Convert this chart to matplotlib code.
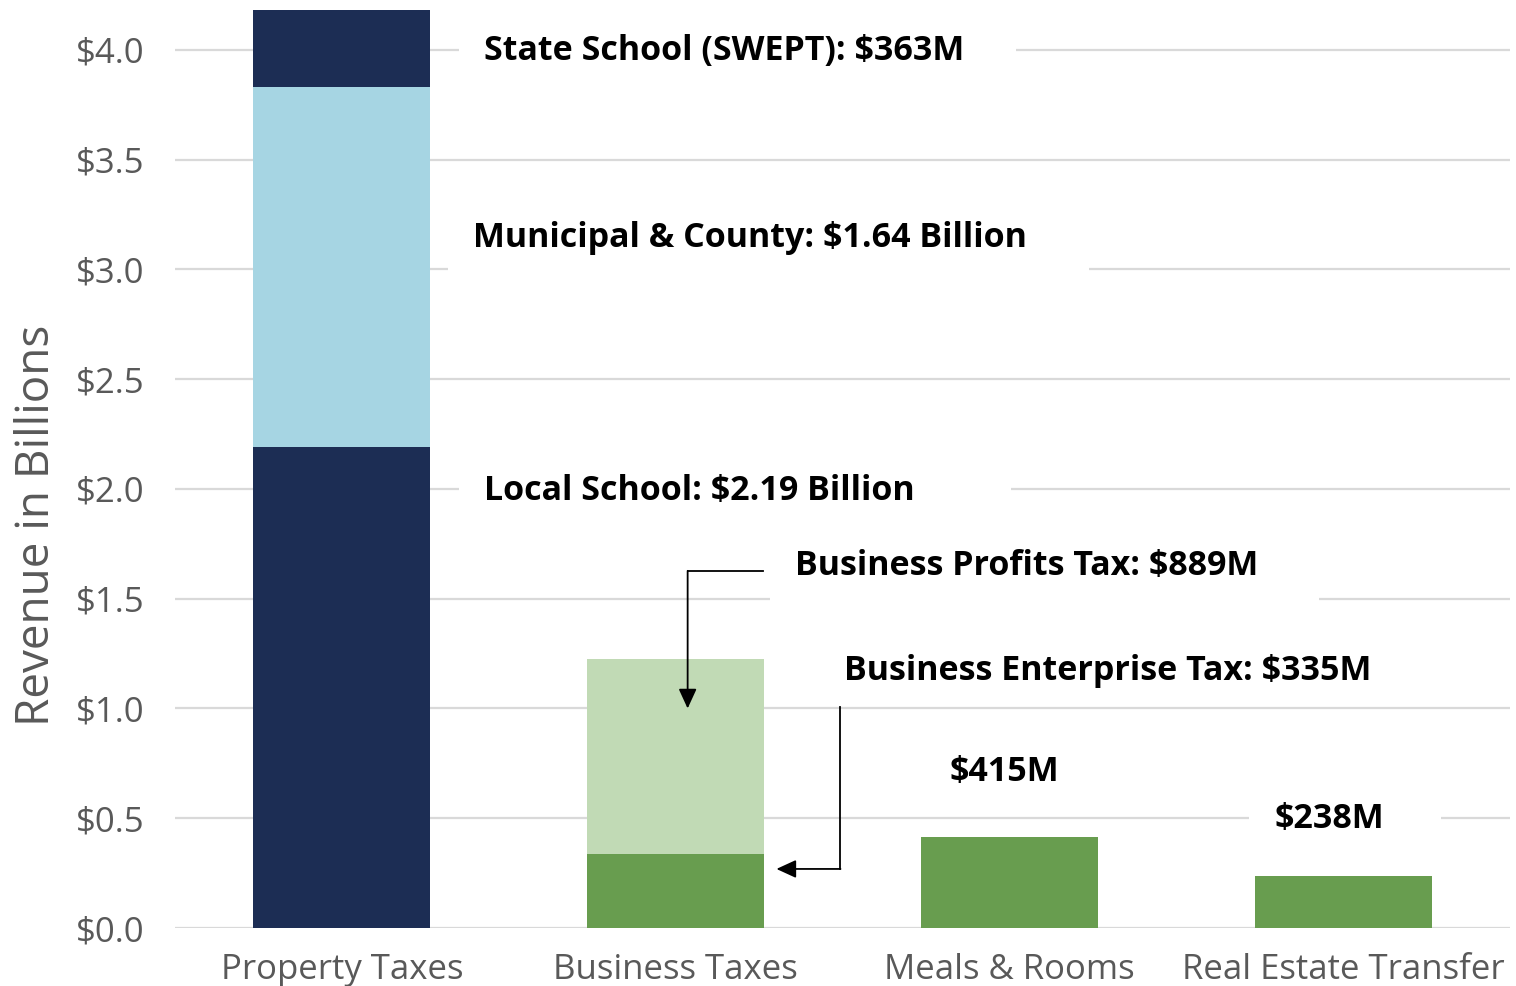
import matplotlib
matplotlib.use("Agg")
import matplotlib.pyplot as plt
from matplotlib.patches import Rectangle

categories = ["Property Taxes", "Business Taxes", "Meals & Rooms", "Real Estate Transfer"]
# stacked segments (billions)
local_school = 2.19
municipal_county = 1.64
state_school = 0.363
business_enterprise = 0.335
business_profits = 0.889
meals_rooms = 0.415
real_estate = 0.238

yticks = [0.0, 0.5, 1.0, 1.5, 2.0, 2.5, 3.0, 3.5, 4.0]
ytick_labels = ["$0.0", "$0.5", "$1.0", "$1.5", "$2.0", "$2.5", "$3.0", "$3.5", "$4.0"]

NAVY = "#1C2D54"
LIGHTBLUE = "#A6D5E3"
LIGHTGREEN = "#C1DAB5"
GREEN = "#689D4F"
GRAY = "#595959"

FONT = "Open Sans"

fig = plt.figure(figsize=(15.16, 9.86), dpi=100)
ax = fig.add_axes([175 / 1516, 58 / 986, (1510 - 175) / 1516, (928 - 10) / 986])

x = list(range(len(categories)))
w = 0.53

# Property taxes stack
ax.bar(x[0], local_school, width=w, color=NAVY, zorder=3)
ax.bar(x[0], municipal_county, bottom=local_school, width=w, color=LIGHTBLUE, zorder=3)
ax.bar(x[0], state_school, bottom=local_school + municipal_county, width=w, color=NAVY, zorder=3)
# Business taxes stack
ax.bar(x[1], business_enterprise, width=w, color=GREEN, zorder=3)
ax.bar(x[1], business_profits, bottom=business_enterprise, width=w, color=LIGHTGREEN, zorder=3)
# Others
ax.bar(x[2], meals_rooms, width=w, color=GREEN, zorder=3)
ax.bar(x[3], real_estate, width=w, color=GREEN, zorder=3)

ax.set_xlim(-0.5, 3.5)
ax.set_ylim(0, 4.182)
ax.set_yticks(yticks)
ax.set_yticklabels(ytick_labels, fontsize=25, color=GRAY, family=FONT)
ax.set_xticks(x)
ax.set_xticklabels(categories, fontsize=25, color=GRAY, family=FONT)
ax.tick_params(axis="both", length=0)
ax.tick_params(axis="y", pad=22)
ax.tick_params(axis="x", pad=18)
for s in ax.spines.values():
    s.set_visible(False)
ax.grid(axis="y", color="#D9D9D9", linewidth=1.6, zorder=0)
ax.set_axisbelow(True)
ax.set_ylabel("Revenue in Billions", fontsize=33, color=GRAY, family=FONT)
ax.yaxis.set_label_coords(-0.086, 0.439)

texts = []

def label(xd, yd, text, ha="left", pad_l=25, pad_r=57, box=True):
    t = ax.text(xd, yd, text, ha=ha, va="center", fontsize=24.5, fontweight="bold",
                family=FONT, color="black", zorder=5)
    if box:
        texts.append((t, pad_l, pad_r))

label(0.425, 3.996, "State School (SWEPT): $363M", pad_r=52)
label(0.392, 3.143, "Municipal & County: $1.64 Billion", pad_r=62)
label(0.425, 1.991, "Local School: $2.19 Billion", pad_r=97)
label(1.359, 1.650, "Business Profits Tax: $889M", pad_r=60)
label(1.503, 1.171, "Business Enterprise Tax: $335M", box=False)
label(1.985, 0.711, "$415M", ha="center", box=False)
label(2.958, 0.497, "$238M", ha="center", pad_r=57)

# white boxes behind labels (interrupt gridlines)
fig.canvas.draw()
renderer = fig.canvas.get_renderer()
inv = ax.transAxes.inverted()
for t, pl, pr in texts:
    bb = t.get_window_extent(renderer)
    cy = (bb.y0 + bb.y1) / 2
    (x0, y0) = inv.transform((bb.x0 - pl, cy - 38))
    (x1, y1) = inv.transform((bb.x1 + pr, cy + 38))
    ax.add_patch(Rectangle((x0, y0), x1 - x0, y1 - y0, transform=ax.transAxes,
                           facecolor="white", edgecolor="none", zorder=2))

# connector arrows
arrow_kw = dict(arrowstyle="-|>,head_length=1.2,head_width=0.55", color="black", lw=1.3,
                shrinkA=0, shrinkB=0)
ax.plot([1.263, 1.036], [1.627, 1.627], color="black", lw=1.3, zorder=6)
ax.annotate("", xy=(1.036, 1.0), xytext=(1.036, 1.627), arrowprops=arrow_kw, zorder=6)
ax.plot([1.494, 1.494], [1.007, 0.269], color="black", lw=1.3, zorder=6)
ax.annotate("", xy=(1.302, 0.269), xytext=(1.494, 0.269), arrowprops=arrow_kw, zorder=6)

fig.savefig("out.png", dpi=100, facecolor="white")
